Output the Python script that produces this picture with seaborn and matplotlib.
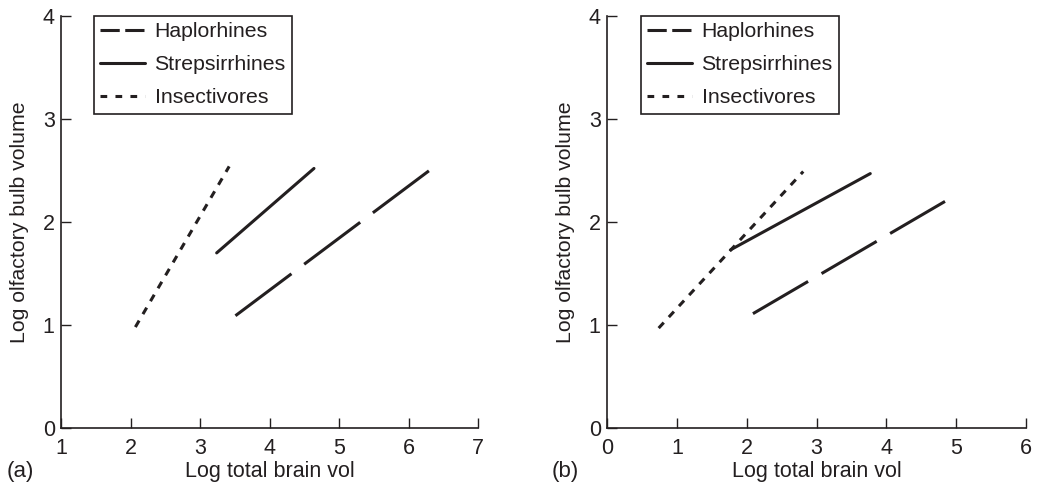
import numpy as np
import pandas as pd
import matplotlib
matplotlib.use("Agg")
import matplotlib.pyplot as plt
from matplotlib.lines import Line2D
import seaborn as sns

# ---- data (line endpoints) ----
groups = ["Haplorhines", "Strepsirrhines", "Insectivores"]

# panel (a)
a_hap_x = [3.51, 6.30]
a_hap_y = [1.09, 2.50]
a_str_x = [3.24, 4.64]
a_str_y = [1.70, 2.52]
a_ins_x = [2.07, 3.42]
a_ins_y = [0.98, 2.54]

# panel (b)
b_hap_x = [2.09, 4.84]
b_hap_y = [1.11, 2.20]
b_str_x = [1.77, 3.77]
b_str_y = [1.73, 2.47]
b_ins_x = [0.74, 2.81]
b_ins_y = [0.97, 2.49]

a_xticks = [1, 2, 3, 4, 5, 6, 7]
b_xticks = [0, 1, 2, 3, 4, 5, 6]
yticks = [0, 1, 2, 3, 4]

xlabel = "Log total brain vol"
ylabel = "Log olfactory bulb volume"


def frame(hx, hy, sx, sy, ix, iy):
    return pd.DataFrame({
        "x": list(hx) + list(sx) + list(ix),
        "y": list(hy) + list(sy) + list(iy),
        "group": [groups[0]] * len(hx) + [groups[1]] * len(sx) + [groups[2]] * len(ix),
    })


df_a = frame(a_hap_x, a_hap_y, a_str_x, a_str_y, a_ins_x, a_ins_y)
df_b = frame(b_hap_x, b_hap_y, b_str_x, b_str_y, b_ins_x, b_ins_y)

sns.set_theme(style="ticks")
plt.rcParams["font.family"] = ["Liberation Sans", "DejaVu Sans"]

INK = "#231f20"
LW = 2.2

fig = plt.figure(figsize=(10.39, 4.87), dpi=100)
ax_a = fig.add_axes([61 / 1039, 1 - 428 / 487, (478 - 61) / 1039, (428 - 16) / 487])
ax_b = fig.add_axes([607 / 1039, 1 - 428 / 487, (1026 - 607) / 1039, (428 - 16) / 487])


def draw(ax, df, xticks, hap_dash, legend_x):
    dashes = {
        "Haplorhines": hap_dash,
        "Strepsirrhines": "",
        "Insectivores": (2.45, 2.45),
    }
    sns.lineplot(data=df, x="x", y="y", style="group", dashes=dashes,
                 color=INK, lw=LW, legend=False, ax=ax, sort=False,
                 estimator=None)
    ax.set_xlim(xticks[0], xticks[-1])
    ax.set_ylim(yticks[0], yticks[-1])
    ax.set_xticks(xticks)
    ax.set_yticks(yticks)
    ax.set_xticklabels([str(t) for t in xticks])
    ax.set_yticklabels([str(t) for t in yticks])
    ax.tick_params(direction="in", length=7, width=1.0, colors=INK,
                   labelsize=15.5)
    ax.tick_params(axis="x", pad=7)
    ax.tick_params(axis="y", pad=4.5)
    for s in ["top", "right"]:
        ax.spines[s].set_visible(False)
    for s in ["left", "bottom"]:
        ax.spines[s].set_color(INK)
        ax.spines[s].set_linewidth(1.2)
    ax.set_xlabel(xlabel, fontsize=15.5, color=INK, labelpad=2)
    ax.set_ylabel(ylabel, fontsize=15.3, color=INK, labelpad=10)

    handles = [
        Line2D([], [], color=INK, lw=LW, dashes=(6.3, 1.8)),
        Line2D([], [], color=INK, lw=LW),
        Line2D([], [], color=INK, lw=LW, dashes=(2.2, 2.7)),
    ]
    leg = ax.legend(handles, groups, loc="upper left",
                    bbox_to_anchor=(legend_x, 1.0), borderaxespad=0,
                    frameon=True, fancybox=False, fontsize=15.3,
                    handlelength=2.1, handletextpad=0.45, labelspacing=0.66,
                    borderpad=0.3, labelcolor=INK)
    fr = leg.get_frame()
    fr.set_edgecolor(INK)
    fr.set_linewidth(1.2)
    fr.set_facecolor("white")
    fr.set_alpha(1)


draw(ax_a, df_a, a_xticks, (22.9, 5.2), 0.079)
draw(ax_b, df_b, b_xticks, (20.9, 5.1), 0.081)

fig.text(7 / 1039, 1 - 471 / 487, "(a)", fontsize=16, color=INK, va="center", ha="left")
fig.text(552 / 1039, 1 - 471 / 487, "(b)", fontsize=16, color=INK, va="center", ha="left")

fig.savefig("out.png", dpi=100, facecolor="white")
